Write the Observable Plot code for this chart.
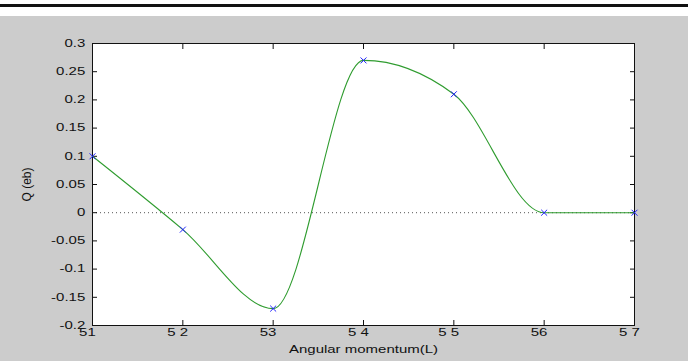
<!DOCTYPE html>
<html><head><meta charset="utf-8">
<script src="https://cdn.jsdelivr.net/npm/d3@7"></script>
<script src="https://cdn.jsdelivr.net/npm/@observablehq/plot@0.6"></script>
<style>
html,body{margin:0;padding:0;background:#fff;width:688px;height:361px;overflow:hidden;}
#top{height:16px;background:#fff;position:relative;}
#top div{position:absolute;left:0;right:0;top:4px;height:3px;background:#111;}
#chart{background:#cccccc;height:345px;}
svg{display:block;}
</style></head>
<body>
<div id="top"><div></div></div>
<div id="chart"></div>
<script>
const L = [51, 52, 53, 54, 55, 56, 57];
const Q = [0.1, -0.03, -0.17, 0.27, 0.21, 0, 0];
const xTickLabels = ["51", "5 2", "53", "5 4", "5 5", "56", "5 7"];
const yTicks = [-0.2, -0.15, -0.1, -0.05, 0, 0.05, 0.1, 0.15, 0.2, 0.25, 0.3];
const xLabel = "Angular momentum(L)";
const yLabel = "Q (eb)";

const data = L.map((l, i) => ({L: l, Q: Q[i]}));
const fmtY = d => String(+d.toFixed(2));
const fmtX = d => xTickLabels[L.indexOf(d)];

const chart = Plot.plot({
  width: 688, height: 345,
  marginTop: 27, marginBottom: 36, marginLeft: 92, marginRight: 54,
  style: {background: "#cccccc", fontFamily: "'Liberation Sans', Arial, sans-serif", fontSize: "10px", color: "#111"},
  x: {domain: [51, 57]},
  y: {domain: [-0.2, 0.3]},
  marks: [
    Plot.frame({fill: "white", stroke: "none"}),
    Plot.ruleY([0], {stroke: "#555", strokeDasharray: "1,3"}),
    Plot.axisX(L, {anchor: "bottom", tickSize: -5, text: null, label: null}),
    Plot.axisX(L, {anchor: "top", tickSize: -5, text: null, label: null}),
    Plot.axisY(yTicks, {anchor: "left", tickSize: -5, text: null, label: null}),
    Plot.axisY(yTicks, {anchor: "right", tickSize: -5, text: null, label: null}),
    Plot.axisX(L, {anchor: "bottom", tickSize: 0, tickPadding: 3, dx: -5, tickFormat: fmtX,
      label: xLabel, labelAnchor: "center", labelArrow: "none", labelOffset: 27}),
    Plot.axisY(yTicks, {anchor: "left", tickSize: 0, tickPadding: 7, tickFormat: fmtY,
      label: yLabel, labelAnchor: "center", labelArrow: "none", labelOffset: 70}),
    Plot.frame({stroke: "#111", strokeWidth: 1}),
    Plot.line(data, {x: "L", y: "Q", stroke: "#2f9c2f", strokeWidth: 1.1, curve: "monotone-x"}),
    Plot.dot(data, {x: "L", y: "Q", symbol: "times", r: 2.8, stroke: "#2020ff", strokeWidth: 1})
  ]
});
document.getElementById("chart").appendChild(chart);
// horizontally stretched glyphs as in the reference
chart.querySelectorAll("text").forEach(t => {
  const tr = t.getAttribute("transform") || "";
  if (/rotate/.test(tr)) {
    t.style.fontSize = "12px";
    t.querySelectorAll("tspan").forEach(s => s.style.fontSize = "12px");
    return;
  }
  const b = t.getBBox();
  const anchor = getComputedStyle(t).textAnchor;
  const ax = anchor === "end" ? b.x + b.width : anchor === "middle" ? b.x + b.width / 2 : b.x;
  t.setAttribute("transform", `${tr} translate(${ax},0) scale(1.5,1) translate(${-ax},0)`);
});
</script>
</body></html>
